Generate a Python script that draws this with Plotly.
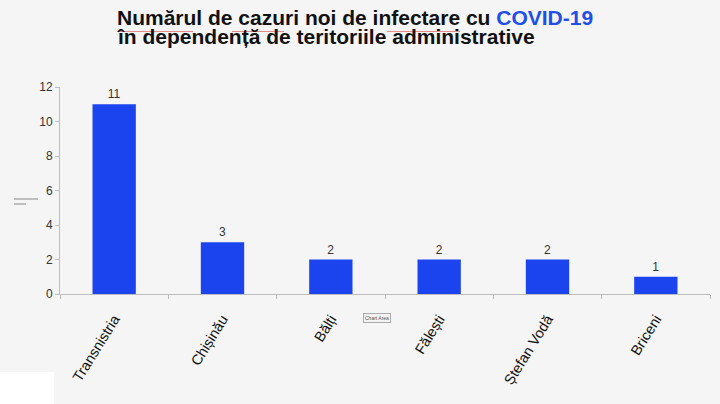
import plotly.graph_objects as go

categories = ["Transnistria", "Chișinău", "Bălți", "Fălești", "Ștefan Vodă", "Briceni"]
values = [11, 3, 2, 2, 2, 1]
y_ticks = [0, 2, 4, 6, 8, 10, 12]

BAR = "#1c44ee"
AXIS = "#bdbdbd"
TXT = "#333333"
FONT = "Liberation Sans, Arial, sans-serif"

fig = go.Figure()
fig.add_trace(go.Bar(
    x=categories, y=values,
    marker=dict(color=BAR, line=dict(width=0)),
    width=0.4,
    text=[str(v) for v in values],
    textposition="outside",
    textfont=dict(family=FONT, size=12, color=TXT),
    cliponaxis=False,
))

W, H = 720, 404
ml, mr, mt, mb = 60, 10, 87, 110

def px(x):
    return (x - ml) / (W - ml - mr)

def py(y):
    return (H - mb - y) / (H - mt - mb)

fig.update_layout(
    width=W, height=H,
    margin=dict(l=ml, r=mr, t=mt, b=mb, pad=0),
    paper_bgcolor="#f5f5f5",
    plot_bgcolor="#f5f5f5",
    showlegend=False,
    font=dict(family=FONT, color=TXT),
    xaxis=dict(
        showgrid=False, showline=True, linecolor=AXIS, linewidth=1,
        ticks="outside", tickson="boundaries", ticklen=4, tickcolor=AXIS,
        tickangle=-58, tickfont=dict(family=FONT, size=14.5, color="#111111"),
        ticklabelstandoff=10,
        fixedrange=True,
    ),
    yaxis=dict(
        range=[0, 12], tickvals=y_ticks, showgrid=False, zeroline=False,
        showline=True, linecolor=AXIS, linewidth=1,
        ticks="outside", ticklen=4, tickcolor=AXIS,
        tickfont=dict(family=FONT, size=12, color=TXT),
    ),
    bargap=0.6,
)

# Title (two lines)
fig.add_annotation(
    xref="paper", yref="paper", x=px(115), y=py(31), xanchor="left", yanchor="bottom",
    text="<b>Numărul de cazuri noi de infectare cu <span style='color:#1f4fe6'>COVID-19</span></b>",
    showarrow=False, font=dict(family=FONT, size=21, color="#111111"),
)
fig.add_annotation(
    xref="paper", yref="paper", x=px(115), y=py(50), xanchor="left", yanchor="bottom",
    text="<b>în dependență de teritoriile administrative</b>",
    showarrow=False, font=dict(family=FONT, size=21, color="#111111"),
)

# "Chart Area" tooltip box
fig.add_annotation(
    xref="paper", yref="paper", x=px(377), y=py(317.5), xanchor="center", yanchor="middle",
    text="Chart Area", showarrow=False, font=dict(family=FONT, size=5, color="#555555"),
    bgcolor="#f2f2f2", bordercolor="#aaaaaa", borderwidth=1, borderpad=1,
)

shapes = [
    # white block bottom-left
    dict(type="rect", xref="paper", yref="paper", x0=px(0), x1=px(54), y0=py(404), y1=py(372),
         fillcolor="#ffffff", line=dict(width=0), layer="below"),
    # small glyph left of y axis
    dict(type="line", xref="paper", yref="paper", x0=px(14), x1=px(38), y0=py(199), y1=py(199),
         line=dict(color="#888888", width=1)),
    dict(type="line", xref="paper", yref="paper", x0=px(14), x1=px(26), y0=py(204), y1=py(204),
         line=dict(color="#888888", width=1)),
]
# spell-check underlines in the title
for x0, x1 in [(118, 193), (232, 284), (387, 460)]:
    shapes.append(dict(type="line", xref="paper", yref="paper", x0=px(x0), x1=px(x1),
                       y0=py(31.5), y1=py(31.5), line=dict(color="#e58a8a", width=1)))
fig.update_layout(shapes=shapes)

fig.write_html("out.html")
